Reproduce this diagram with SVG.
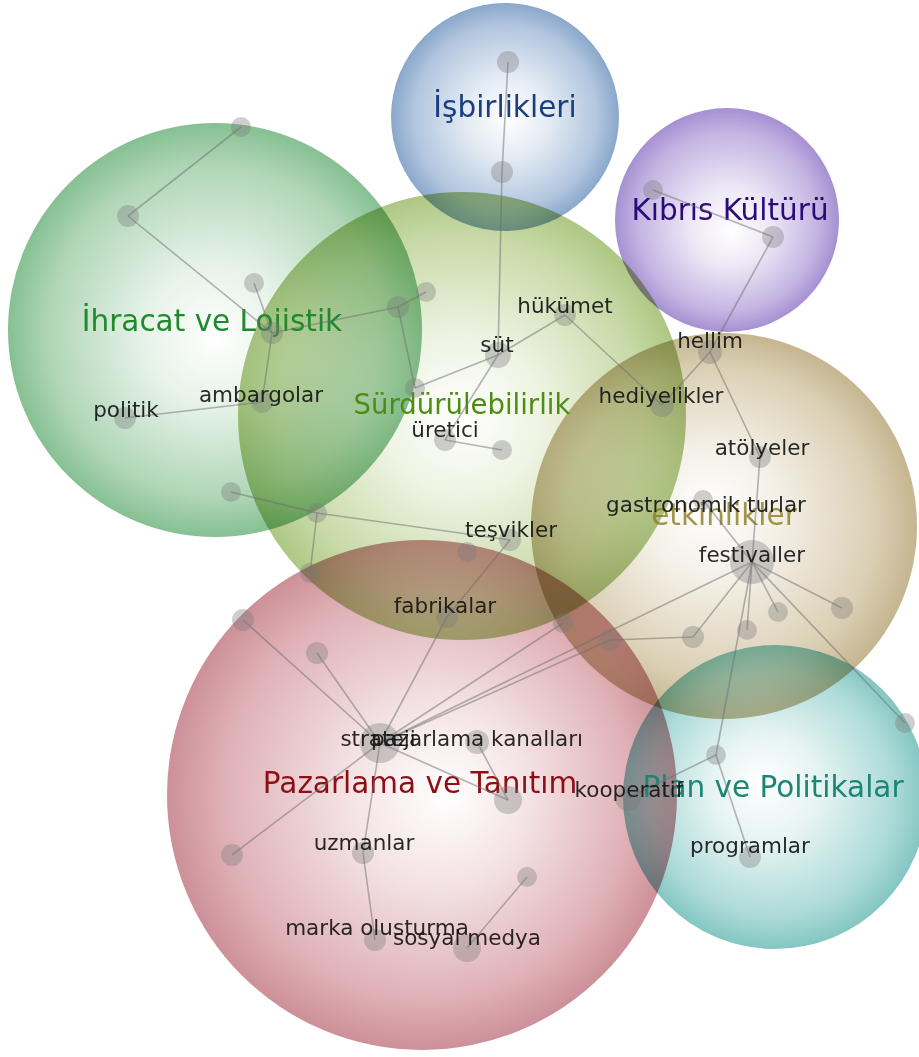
<svg xmlns="http://www.w3.org/2000/svg" width="919" height="1057" viewBox="0 0 919 1057">
<style>
.bg{fill:#ffffff}
.cl{mix-blend-mode:multiply}
.ct{font-family:"DejaVu Sans","Noto Sans",sans-serif;font-size:29.5px;text-anchor:middle}
.e{stroke:#6e6e6e;stroke-width:1.6;stroke-opacity:0.5;fill:none}
.n{fill:#7a7a7a;fill-opacity:0.36}
.nt{font-family:"DejaVu Sans","Noto Sans",sans-serif;font-size:21.5px;text-anchor:middle;fill:#161616;fill-opacity:0.92}
</style>
<defs>
<radialGradient id="gIhr" cx="0.5" cy="0.5" r="0.5" fx="0.5" fy="0.52"><stop offset="0" stop-color="#ffffff"/><stop offset="0.35" stop-color="#e6f2e8"/><stop offset="0.8" stop-color="#b0d6b7"/><stop offset="1" stop-color="#86c092"/></radialGradient>
<radialGradient id="gIsb" cx="0.5" cy="0.5" r="0.5" fx="0.52" fy="0.5"><stop offset="0" stop-color="#ffffff"/><stop offset="0.35" stop-color="#e5ecf4"/><stop offset="0.8" stop-color="#b2c6df"/><stop offset="1" stop-color="#8aa7cb"/></radialGradient>
<radialGradient id="gKib" cx="0.5" cy="0.5" r="0.5" fx="0.52" fy="0.55"><stop offset="0" stop-color="#ffffff"/><stop offset="0.35" stop-color="#ede8f6"/><stop offset="0.8" stop-color="#c4b4e2"/><stop offset="1" stop-color="#a591d2"/></radialGradient>
<radialGradient id="gSur" cx="0.5" cy="0.5" r="0.5" fx="0.5" fy="0.5"><stop offset="0" stop-color="#ffffff"/><stop offset="0.35" stop-color="#eff4e4"/><stop offset="0.8" stop-color="#c8daa8"/><stop offset="1" stop-color="#adc783"/></radialGradient>
<radialGradient id="gEtk" cx="0.5" cy="0.5" r="0.5" fx="0.45" fy="0.45"><stop offset="0" stop-color="#ffffff"/><stop offset="0.35" stop-color="#f4f0e7"/><stop offset="0.8" stop-color="#dbd0b5"/><stop offset="1" stop-color="#c5b590"/></radialGradient>
<radialGradient id="gPaz" cx="0.5" cy="0.5" r="0.5" fx="0.55" fy="0.5"><stop offset="0" stop-color="#ffffff"/><stop offset="0.35" stop-color="#f4e3e5"/><stop offset="0.8" stop-color="#dfb1b6"/><stop offset="1" stop-color="#cd9098"/></radialGradient>
<radialGradient id="gPla" cx="0.5" cy="0.5" r="0.5" fx="0.45" fy="0.45"><stop offset="0" stop-color="#ffffff"/><stop offset="0.35" stop-color="#e6f4f3"/><stop offset="0.8" stop-color="#addbd8"/><stop offset="1" stop-color="#84c6c2"/></radialGradient>
</defs>
<rect class="bg" x="0" y="0" width="919" height="1057"/>
<g id="clusters">
<g id="cluster-ihracat"><circle class="cl" cx="215" cy="330" r="207" fill="url(#gIhr)"/></g>
<g id="cluster-isbirlikleri"><circle class="cl" cx="505" cy="117" r="114" fill="url(#gIsb)"/></g>
<g id="cluster-kibris"><circle class="cl" cx="727" cy="220" r="112" fill="url(#gKib)"/></g>
<g id="cluster-surdurulebilirlik"><circle class="cl" cx="462" cy="416" r="224" fill="url(#gSur)"/></g>
<g id="cluster-etkinlikler"><circle class="cl" cx="724" cy="526" r="193" fill="url(#gEtk)"/></g>
<g id="cluster-pazarlama"><circle class="cl" cx="422" cy="795" r="255" fill="url(#gPaz)"/></g>
<g id="cluster-plan"><circle class="cl" cx="775" cy="797" r="152" fill="url(#gPla)"/></g>
</g>
<g id="cluster-labels">
<text class="ct" x="212" y="331" fill="#1f8a2c">İhracat ve Lojistik</text>
<text class="ct" x="505" y="117" fill="#1b3f7e">İşbirlikleri</text>
<text class="ct" x="730" y="220" fill="#2c0a7a">Kıbrıs Kültürü</text>
<text class="ct" x="462" y="414" fill="#4e8c12" style="font-size:27.5px">Sürdürülebilirlik</text>
<text class="ct" x="724" y="525" fill="#8c7a1e" fill-opacity="0.8">etkinlikler</text>
<text class="ct" x="420" y="793" fill="#8e0e14">Pazarlama ve Tanıtım</text>
<text class="ct" x="773" y="797" fill="#1d8575">Plan ve Politikalar</text>
</g>
<g id="connectors">
<line class="e" x1="241" y1="127" x2="128" y2="216"/>
<line class="e" x1="128" y1="216" x2="272" y2="333"/>
<line class="e" x1="254" y1="283" x2="272" y2="333"/>
<line class="e" x1="272" y1="333" x2="398" y2="307"/>
<line class="e" x1="398" y1="307" x2="426" y2="292"/>
<line class="e" x1="398" y1="307" x2="415" y2="388"/>
<line class="e" x1="272" y1="333" x2="262" y2="402"/>
<line class="e" x1="262" y1="402" x2="125" y2="418"/>
<line class="e" x1="415" y1="388" x2="498" y2="355"/>
<line class="e" x1="508" y1="62" x2="502" y2="172"/>
<line class="e" x1="502" y1="172" x2="498" y2="355"/>
<line class="e" x1="498" y1="355" x2="565" y2="315"/>
<line class="e" x1="565" y1="315" x2="662" y2="405"/>
<line class="e" x1="498" y1="355" x2="445" y2="440"/>
<line class="e" x1="445" y1="440" x2="502" y2="450"/>
<line class="e" x1="653" y1="190" x2="773" y2="237"/>
<line class="e" x1="773" y1="237" x2="710" y2="352"/>
<line class="e" x1="710" y1="352" x2="662" y2="405"/>
<line class="e" x1="710" y1="352" x2="760" y2="457"/>
<line class="e" x1="760" y1="457" x2="752" y2="562"/>
<line class="e" x1="703" y1="500" x2="752" y2="562"/>
<line class="e" x1="752" y1="562" x2="778" y2="612"/>
<line class="e" x1="752" y1="562" x2="842" y2="608"/>
<line class="e" x1="752" y1="562" x2="747" y2="630"/>
<line class="e" x1="752" y1="562" x2="693" y2="637"/>
<line class="e" x1="752" y1="562" x2="905" y2="723"/>
<line class="e" x1="752" y1="562" x2="716" y2="755"/>
<line class="e" x1="693" y1="637" x2="610" y2="640"/>
<line class="e" x1="610" y1="640" x2="380" y2="743"/>
<line class="e" x1="752" y1="562" x2="380" y2="743"/>
<line class="e" x1="716" y1="755" x2="628" y2="798"/>
<line class="e" x1="716" y1="755" x2="750" y2="857"/>
<line class="e" x1="231" y1="492" x2="317" y2="513"/>
<line class="e" x1="317" y1="513" x2="510" y2="540"/>
<line class="e" x1="317" y1="513" x2="310" y2="573"/>
<line class="e" x1="510" y1="540" x2="447" y2="617"/>
<line class="e" x1="447" y1="617" x2="380" y2="743"/>
<line class="e" x1="380" y1="743" x2="243" y2="620"/>
<line class="e" x1="380" y1="743" x2="317" y2="653"/>
<line class="e" x1="380" y1="743" x2="563" y2="623"/>
<line class="e" x1="380" y1="743" x2="508" y2="800"/>
<line class="e" x1="477" y1="742" x2="508" y2="800"/>
<line class="e" x1="380" y1="743" x2="232" y2="855"/>
<line class="e" x1="380" y1="743" x2="363" y2="853"/>
<line class="e" x1="363" y1="853" x2="375" y2="940"/>
<line class="e" x1="467" y1="948" x2="527" y2="877"/>
</g>
<g id="nodes">
<g id="n-a"><circle class="n" cx="241" cy="127" r="10"/></g>
<g id="n-b"><circle class="n" cx="128" cy="216" r="11"/></g>
<g id="n-c"><circle class="n" cx="254" cy="283" r="10"/></g>
<g id="n-d"><circle class="n" cx="272" cy="333" r="11"/></g>
<g id="n-e"><circle class="n" cx="398" cy="307" r="11"/></g>
<g id="n-f"><circle class="n" cx="426" cy="292" r="10"/></g>
<g id="n-g"><circle class="n" cx="415" cy="388" r="10"/></g>
<g id="n-ambargolar"><circle class="n" cx="262" cy="402" r="11"/><text class="nt" x="261" y="402">ambargolar</text></g>
<g id="n-politik"><circle class="n" cx="125" cy="418" r="11"/><text class="nt" x="126" y="417">politik</text></g>
<g id="n-isb1"><circle class="n" cx="508" cy="62" r="11"/></g>
<g id="n-isb2"><circle class="n" cx="502" cy="172" r="11"/></g>
<g id="n-sut"><circle class="n" cx="498" cy="355" r="13"/><text class="nt" x="497" y="352">süt</text></g>
<g id="n-hukumet"><circle class="n" cx="565" cy="315" r="11"/><text class="nt" x="565" y="313">hükümet</text></g>
<g id="n-hediyelikler"><circle class="n" cx="662" cy="405" r="12"/><text class="nt" x="661" y="403">hediyelikler</text></g>
<g id="n-uretici"><circle class="n" cx="445" cy="440" r="11"/><text class="nt" x="445" y="437">üretici</text></g>
<g id="n-h"><circle class="n" cx="502" cy="450" r="10"/></g>
<g id="n-kib1"><circle class="n" cx="653" cy="190" r="10"/></g>
<g id="n-kib2"><circle class="n" cx="773" cy="237" r="11"/></g>
<g id="n-hellim"><circle class="n" cx="710" cy="352" r="12"/><text class="nt" x="710" y="348">hellim</text></g>
<g id="n-atolyeler"><circle class="n" cx="760" cy="457" r="11"/><text class="nt" x="762" y="455">atölyeler</text></g>
<g id="n-gastronomik"><circle class="n" cx="703" cy="500" r="10"/><text class="nt" x="706" y="512">gastronomik turlar</text></g>
<g id="n-festivaller"><circle class="n" cx="752" cy="562" r="22"/><text class="nt" x="752" y="562">festivaller</text></g>
<g id="n-f1"><circle class="n" cx="778" cy="612" r="10"/></g>
<g id="n-f2"><circle class="n" cx="842" cy="608" r="11"/></g>
<g id="n-f3"><circle class="n" cx="747" cy="630" r="10"/></g>
<g id="n-f4"><circle class="n" cx="693" cy="637" r="11"/></g>
<g id="n-f5"><circle class="n" cx="610" cy="640" r="11"/></g>
<g id="n-f6"><circle class="n" cx="905" cy="723" r="10"/></g>
<g id="n-p1"><circle class="n" cx="716" cy="755" r="10"/></g>
<g id="n-programlar"><circle class="n" cx="750" cy="857" r="11"/><text class="nt" x="750" y="853">programlar</text></g>
<g id="n-kooperatif"><circle class="n" cx="628" cy="798" r="13"/><text class="nt" x="629" y="797">kooperatif</text></g>
<g id="n-i"><circle class="n" cx="231" cy="492" r="10"/></g>
<g id="n-j"><circle class="n" cx="317" cy="513" r="10"/></g>
<g id="n-k"><circle class="n" cx="310" cy="573" r="10"/></g>
<g id="n-tesvikler"><circle class="n" cx="510" cy="540" r="11"/><text class="nt" x="511" y="537">teşvikler</text></g>
<g id="n-l"><circle class="n" cx="467" cy="552" r="10"/></g>
<g id="n-fabrikalar"><circle class="n" cx="447" cy="617" r="11"/><text class="nt" x="445" y="613">fabrikalar</text></g>
<g id="n-strateji"><circle class="n" cx="380" cy="743" r="20"/><text class="nt" x="378" y="746">strateji</text></g>
<g id="n-pazarlamakanallari"><circle class="n" cx="477" cy="742" r="12"/><text class="nt" x="477" y="746">pazarlama kanalları</text></g>
<g id="n-m"><circle class="n" cx="508" cy="800" r="14"/></g>
<g id="n-n"><circle class="n" cx="243" cy="620" r="11"/></g>
<g id="n-o"><circle class="n" cx="317" cy="653" r="11"/></g>
<g id="n-p"><circle class="n" cx="563" cy="623" r="10"/></g>
<g id="n-q"><circle class="n" cx="232" cy="855" r="11"/></g>
<g id="n-uzmanlar"><circle class="n" cx="363" cy="853" r="11"/><text class="nt" x="364" y="850">uzmanlar</text></g>
<g id="n-marka"><circle class="n" cx="375" cy="940" r="11"/><text class="nt" x="377" y="935">marka olusturma</text></g>
<g id="n-sosyalmedya"><circle class="n" cx="467" cy="948" r="14"/><text class="nt" x="467" y="945">sosyal medya</text></g>
<g id="n-r"><circle class="n" cx="527" cy="877" r="10"/></g>
</g>
</svg>
